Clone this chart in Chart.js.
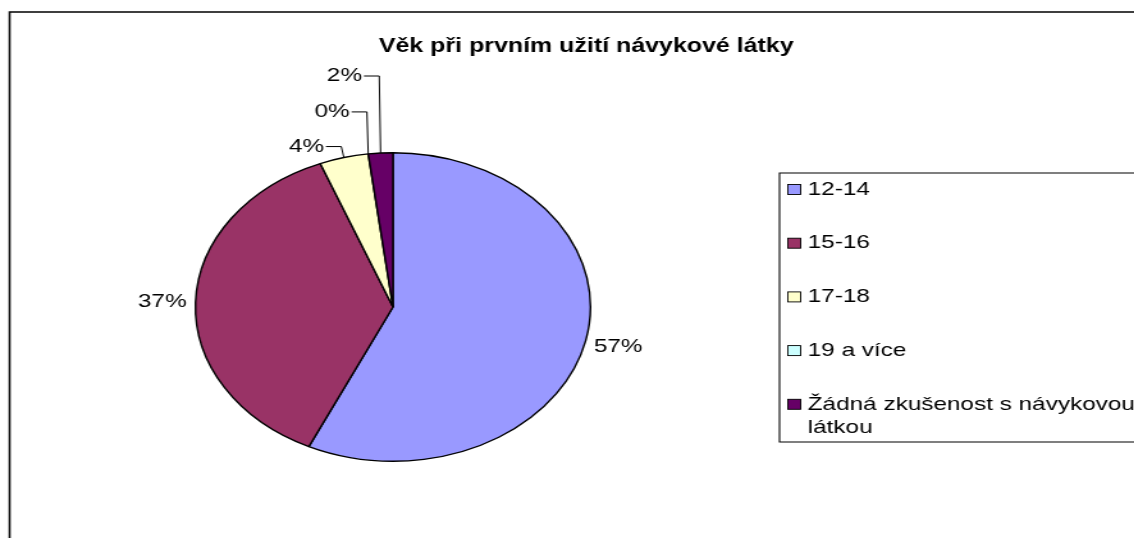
<!DOCTYPE html>
<html><head><meta charset="utf-8">
<script src="https://cdn.jsdelivr.net/npm/chart.js@4.4.1/dist/chart.umd.min.js"></script>
<style>
html,body{margin:0;padding:0;background:#fff;overflow:hidden;}
#wrap{width:1134px;height:538px;overflow:hidden;position:relative;}
#c{position:absolute;left:0;top:0;transform:scaleX(1.28);transform-origin:0 0;}
</style></head><body>
<div id="wrap"><canvas id="c" width="886" height="538"></canvas></div>
<script>
const chartTitle = 'Věk při prvním užití návykové látky';
const categories = ['12-14', '15-16', '17-18', '19 a více', 'Žádná zkušenost s návykovou látkou'];
const percentValues = [57, 37, 4, 0, 2];
const sliceColors = ['#9999FF', '#993366', '#FFFFCC', '#CCFFFF', '#660066'];

const FONT = '"Liberation Sans", Arial, sans-serif';

const frameTitlePlugin = {
  id: 'frameTitle',
  afterDraw(chart, args, opts) {
    const ctx = chart.ctx;
    ctx.save();
    ctx.strokeStyle = '#000';
    ctx.lineWidth = 1.6;
    ctx.beginPath();
    ctx.moveTo(7.5, 700);
    ctx.lineTo(7.5, 12);
    ctx.lineTo(950, 12);
    ctx.stroke();
    ctx.fillStyle = '#000';
    ctx.font = 'bold 19.5px ' + FONT;
    ctx.textAlign = 'center';
    ctx.textBaseline = 'alphabetic';
    ctx.fillText(opts.text, opts.x, opts.y);
    ctx.restore();
  }
};

const labelPlugin = {
  id: 'excelLabels',
  afterDatasetsDraw(chart, args, opts) {
    const ctx = chart.ctx;
    const meta = chart.getDatasetMeta(0);
    const ds = chart.data.datasets[0];
    const total = ds.data.reduce((a, b) => a + b, 0);
    ctx.save();
    ctx.font = opts.font;
    ctx.fillStyle = '#000';
    ctx.strokeStyle = '#000';
    ctx.lineWidth = 1;
    meta.data.forEach((arc, i) => {
      const p = arc.getProps(['x', 'y', 'startAngle', 'endAngle', 'outerRadius'], true);
      const mid = (p.startAngle + p.endAngle) / 2;
      const txt = Math.round(ds.data[i] / total * 100) + '%';
      const lead = opts.leaders[i];
      ctx.textBaseline = 'middle';
      if (!lead) {
        const r = p.outerRadius + opts.gap;
        ctx.textAlign = 'center';
        ctx.fillText(txt, p.x + Math.cos(mid) * r, p.y + Math.sin(mid) * r);
      } else {
        const ex = p.x + Math.cos(mid) * p.outerRadius;
        const ey = p.y + Math.sin(mid) * p.outerRadius;
        const bx = ex + lead.dx, by = ey - lead.lift;
        const hx = bx - opts.arm;
        ctx.beginPath();
        ctx.moveTo(ex, ey);
        ctx.lineTo(bx, by);
        ctx.lineTo(hx, by);
        ctx.stroke();
        ctx.textAlign = 'right';
        ctx.fillText(txt, hx - 1.5, by);
      }
    });
    ctx.restore();
  }
};

const legendPlugin = {
  id: 'boxLegend',
  afterDraw(chart, args, opts) {
    const ctx = chart.ctx;
    const ds = chart.data.datasets[0];
    ctx.save();
    ctx.strokeStyle = '#000';
    ctx.lineWidth = 1.1;
    ctx.beginPath();
    ctx.moveTo(950, opts.top);
    ctx.lineTo(opts.left, opts.top);
    ctx.lineTo(opts.left, opts.bottom);
    ctx.lineTo(950, opts.bottom);
    ctx.stroke();
    ctx.font = opts.font;
    ctx.textBaseline = 'middle';
    ctx.textAlign = 'left';
    chart.data.labels.forEach((lab, i) => {
      const y = opts.firstY + i * opts.step;
      ctx.fillStyle = ds.backgroundColor[i];
      ctx.fillRect(opts.boxX, y - 5, 10, 10);
      ctx.strokeStyle = '#000';
      ctx.lineWidth = 0.9;
      ctx.strokeRect(opts.boxX, y - 5, 10, 10);
      const words = lab.split(' ');
      const lines = [];
      let cur = '';
      words.forEach(w => {
        const t = cur ? cur + ' ' + w : w;
        if (ctx.measureText(t).width > opts.maxWidth && cur) { lines.push(cur); cur = w; }
        else cur = t;
      });
      lines.push(cur);
      ctx.fillStyle = '#000';
      lines.forEach((ln, k) => ctx.fillText(ln, opts.textX, y + k * opts.lineH));
    });
    ctx.restore();
  }
};

new Chart(document.getElementById('c'), {
  type: 'pie',
  data: {
    labels: categories,
    datasets: [{
      data: percentValues,
      backgroundColor: sliceColors,
      borderColor: '#000',
      borderWidth: 1.4,
      borderAlign: 'center'
    }]
  },
  options: {
    responsive: false,
    devicePixelRatio: 1,
    animation: false,
    events: [],
    layout: { padding: { left: 152, top: 152, right: 424, bottom: 76 } },
    plugins: {
      legend: { display: false },
      title: { display: false },
      tooltip: { enabled: false },
      frameTitle: { text: chartTitle, x: 458, y: 52 },
      excelLabels: {
        font: '19px ' + FONT,
        gap: 26,
        arm: 12,
        leaders: [null, null, { dx: -2, lift: 11 }, { dx: -1, lift: 42 }, { dx: -1, lift: 77 }]
      },
      boxLegend: {
        font: '19px ' + FONT,
        left: 609, top: 173, bottom: 442,
        boxX: 615.5, textX: 631, firstY: 189.5, step: 53.7, lineH: 23.5, maxWidth: 262
      }
    }
  },
  plugins: [labelPlugin, legendPlugin, frameTitlePlugin]
});
</script>
</body></html>
